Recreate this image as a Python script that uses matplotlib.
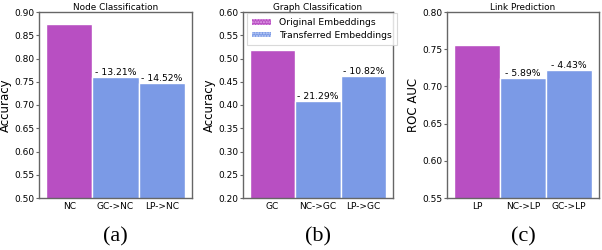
import matplotlib
matplotlib.use("Agg")
import matplotlib.pyplot as plt
from matplotlib.patches import Patch

titles = ["Node Classification", "Graph Classification", "Link Prediction"]
ylabels = ["Accuracy", "Accuracy", "ROC AUC"]
cats = [["NC", "GC->NC", "LP->NC"], ["GC", "NC->GC", "LP->GC"], ["LP", "NC->LP", "GC->LP"]]
values = [[0.875, 0.7594, 0.748], [0.518, 0.4077, 0.462], [0.756, 0.7115, 0.7225]]
drops = [["", "- 13.21%", "- 14.52%"], ["", "- 21.29%", "- 10.82%"], ["", "- 5.89%", "- 4.43%"]]
ylims = [(0.5, 0.9), (0.2, 0.6), (0.55, 0.8)]
yticks = [[0.50, 0.55, 0.60, 0.65, 0.70, 0.75, 0.80, 0.85, 0.90],
          [0.20, 0.25, 0.30, 0.35, 0.40, 0.45, 0.50, 0.55, 0.60],
          [0.55, 0.60, 0.65, 0.70, 0.75, 0.80]]
sublabels = ["(a)", "(b)", "(c)"]
legend_labels = ["Original Embeddings", "Transferred Embeddings"]

purple = "#B84FC2"
blue = "#7B9AE6"
frame = "#666666"

W, H = 602, 250
fig = plt.figure(figsize=(W / 100, H / 100), dpi=100)
lefts = [39, 243, 447]
width_px = [153, 150, 152]
bottom_px, top_px = 198, 12

for i in range(3):
    ax = fig.add_axes([lefts[i] / W, 1 - bottom_px / H, width_px[i] / W, (bottom_px - top_px) / H])
    colors = [purple, blue, blue]
    ax.bar(range(3), values[i], width=1.0, color=colors, edgecolor="white", linewidth=1.0,
           zorder=2)
    ax.set_ylim(*ylims[i])
    ax.set_xlim(-0.65, 2.65)
    ax.set_yticks(yticks[i])
    ax.set_yticklabels(["%.2f" % t for t in yticks[i]])
    ax.set_xticks(range(3))
    ax.set_xticklabels(cats[i])
    ax.tick_params(axis="y", labelsize=6.5, length=2.2, width=0.8, color=frame, pad=1)
    ax.tick_params(axis="x", labelsize=6.5, length=0, pad=3)
    ax.set_title(titles[i], fontsize=6.4, pad=1.5)
    ax.set_ylabel(ylabels[i], fontsize=8.5, labelpad=1.5)
    for s in ax.spines.values():
        s.set_color(frame)
        s.set_linewidth(1.0)
    for j in range(3):
        if drops[i][j]:
            ax.text(j, values[i][j], drops[i][j], ha="center", va="bottom", fontsize=6.7)
    cx = (lefts[i] + width_px[i] / 2) / W
    fig.text(cx, 1 - 237 / H, sublabels[i], ha="center", va="center",
             fontsize=16, family="Liberation Serif")
    if i == 1:
        handles = [Patch(facecolor=purple, edgecolor="#e4a6ea", hatch="......", linewidth=0),
                   Patch(facecolor=blue, edgecolor="#c9d6f7", hatch="......", linewidth=0)]
        leg = ax.legend(handles, legend_labels, loc="upper right",
                        bbox_to_anchor=(1.027, 0.995), borderaxespad=0,
                        fontsize=6.7, frameon=True, fancybox=False,
                        handlelength=2.05, handleheight=0.6, borderpad=0.55,
                        labelspacing=0.4, handletextpad=0.85)
        leg.get_frame().set_edgecolor("#d0d0d0")
        leg.get_frame().set_linewidth(0.8)
        leg.set_zorder(10)

fig.savefig("out.png", dpi=100)
